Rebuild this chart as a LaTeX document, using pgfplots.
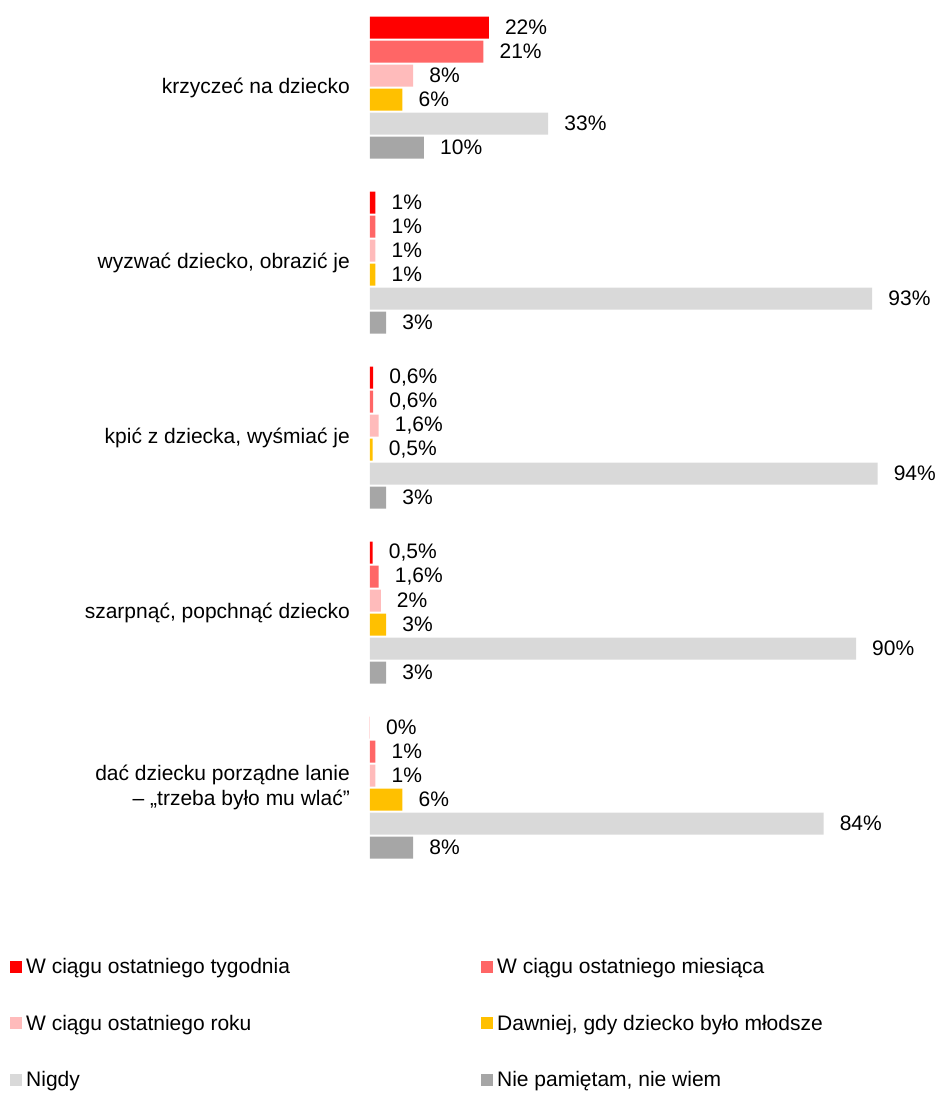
\documentclass[border=0pt]{standalone}
\usepackage{fontspec}
\setmainfont{Liberation Sans}
\usepackage{pgfplots}
\pgfplotsset{compat=1.18}
\definecolor{c1}{HTML}{FF0000}
\definecolor{c2}{HTML}{FF6666}
\definecolor{c3}{HTML}{FFBBBB}
\definecolor{c4}{HTML}{FFC000}
\definecolor{c5}{HTML}{D9D9D9}
\definecolor{c6}{HTML}{A6A6A6}
\newcommand{\ff}{\fontsize{21}{25}\selectfont}
\pgfplotsset{
  mybar/.style 2 args={xbar, bar width=22pt, draw=none, fill=#1, bar shift=#2,
    every node near coord/.append style={yshift=#2},
    legend image code/.code={\fill[#1] (0pt,-6pt) rectangle (12pt,6pt);}},
}
\begin{document}
\begin{tikzpicture}
\path[use as bounding box] (0,0) rectangle (935pt,-1093pt);
\begin{axis}[
  at={(370pt,0pt)}, anchor=north west,
  scale only axis,
  x=5.4pt, y=175pt,
  xmin=0, xmax=100, ymin=-0.5, ymax=4.5,
  y dir=reverse,
  axis line style={draw=none},
  major tick length=0pt,
  xtick=\empty,
  ytick={0,1,2,3,4},
  yticklabels={krzyczeć na dziecko, {wyzwać dziecko, obrazić je}, {kpić z dziecka, wyśmiać je}, {szarpnąć, popchnąć dziecko}, {dać dziecku porządne lanie\\– „trzeba było mu wlać”}},
  yticklabel style={align=right, font=\ff, inner sep=0pt, anchor=east, xshift=-20pt},
  point meta=x,
  nodes near coords={\pgfmathprintnumber[assume math mode=true,use comma]{\pgfplotspointmeta}\%},
  every node near coord/.append style={anchor=west, inner sep=0pt, xshift=16pt, font=\ff, text=black},
  clip=false,
  legend style={at={(axis description cs:-0.6667,0)}, anchor=north west, yshift=-81pt,
    draw=none, fill=none, inner sep=0pt, font=\ff, legend columns=2,
    row sep=36pt,
    /tikz/every odd column/.style={column sep=2pt},
    /tikz/every even column/.style={column sep=0pt}},
  legend cell align=left,
]
\addplot[mybar={c1}{60pt}] coordinates {(22,0) (1,1) (0.6,2) (0.5,3) (0,4)};
\addlegendentry{\makebox[453pt][l]{W ciągu ostatniego tygodnia}}
\addplot[mybar={c2}{36pt}] coordinates {(21,0) (1,1) (0.6,2) (1.6,3) (1,4)};
\addlegendentry{\makebox[453pt][l]{W ciągu ostatniego miesiąca}}
\addplot[mybar={c3}{12pt}] coordinates {(8,0) (1,1) (1.6,2) (2,3) (1,4)};
\addlegendentry{\makebox[453pt][l]{W ciągu ostatniego roku}}
\addplot[mybar={c4}{-12pt}] coordinates {(6,0) (1,1) (0.5,2) (3,3) (6,4)};
\addlegendentry{\makebox[453pt][l]{Dawniej, gdy dziecko było młodsze}}
\addplot[mybar={c5}{-36pt}] coordinates {(33,0) (93,1) (94,2) (90,3) (84,4)};
\addlegendentry{\makebox[453pt][l]{Nigdy}}
\addplot[mybar={c6}{-60pt}] coordinates {(10,0) (3,1) (3,2) (3,3) (8,4)};
\addlegendentry{\makebox[453pt][l]{Nie pamiętam, nie wiem}}
\end{axis}
\end{tikzpicture}
\end{document}
